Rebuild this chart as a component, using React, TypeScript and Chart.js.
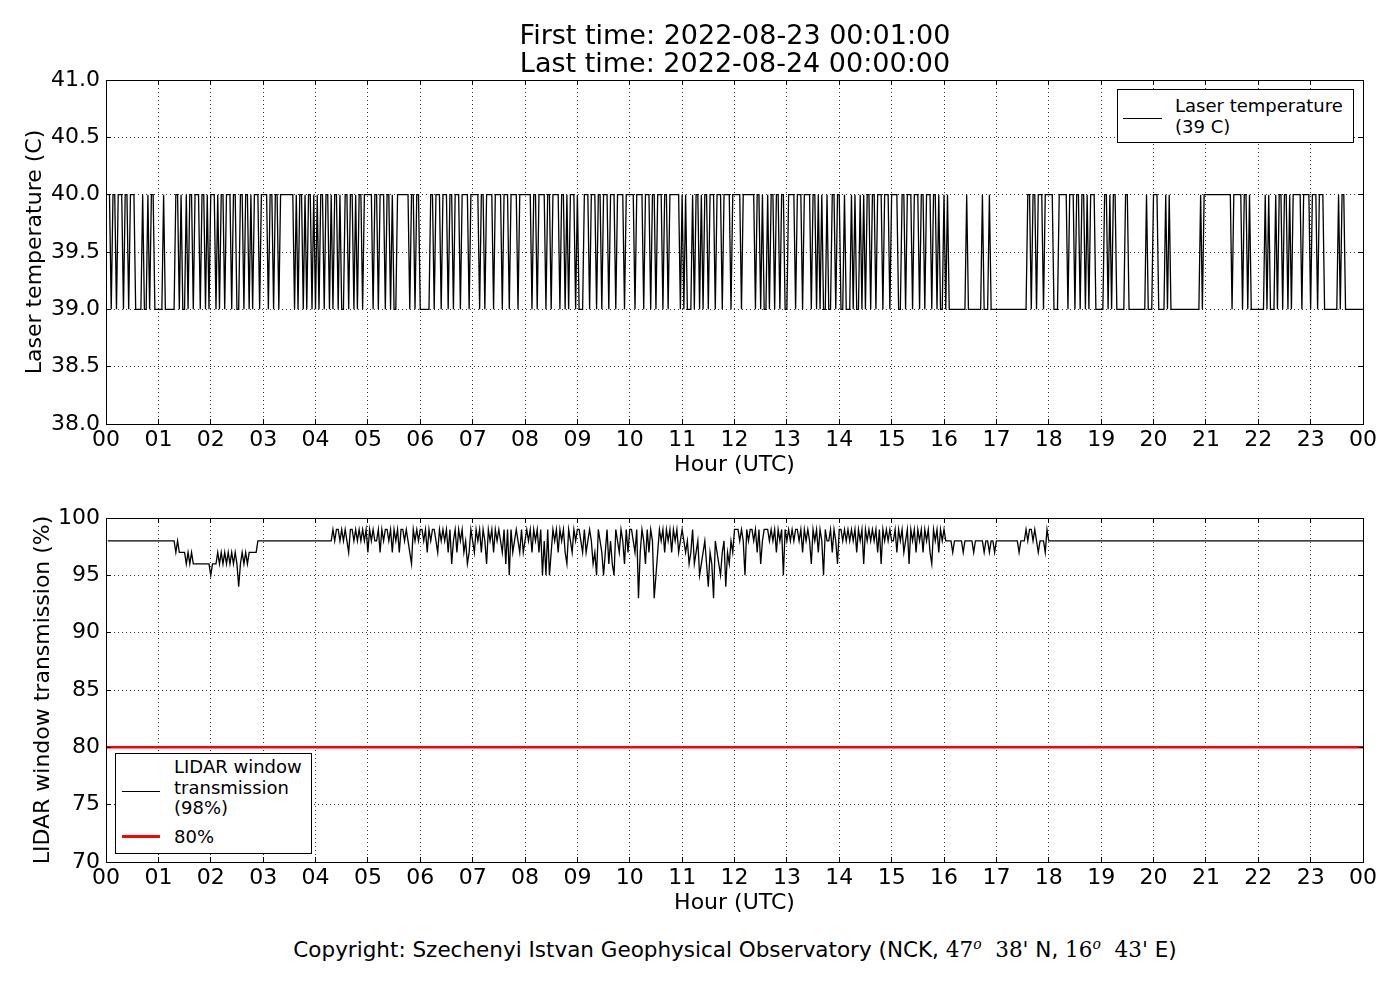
import React, { useEffect, useRef } from 'react';
import Chart from 'chart.js/auto';

const FONT = 'DejaVu Sans';

// x axis tick labels, one per hour (00 .. 23, then 00 of the next day)
const HOUR_TICKS = [
  '00', '01', '02', '03', '04', '05', '06', '07', '08', '09', '10', '11',
  '12', '13', '14', '15', '16', '17', '18', '19', '20', '21', '22', '23', '00',
];

// laser temperature, one string per hour, one char per 2-minute sample:
// '0' = 39 C, '1' = 40 C
const LASER_LOW = 39;
const LASER_HIGH = 40;
const laserByHour = [
  '110110111011011100001001011000',
  '001000000110100101101110110101',
  '110101101110110011011010111011',
  '110110110111111110101101011010',
  '101101101011010011011010110111',
  '110110111011010011111110110110',
  '000001101110111011011101111011',
  '111011011110111101110111101111',
  '111011011110110111101101011101',
  '000111011101101110111011110111',
  '110111101110110111011011111101',
  '010001011010110111011101111011',
  '111011111110110100101101101100',
  '111101110111101101010010011011',
  '001000101001010110110111011101',
  '111001101110111011011101101001',
  '010000000000100000000100010000',
  '000000000000000001101101110111',
  '110001111101110110110101110000',
  '011010110000011000000000010001',
  '110000101000000000000000001011',
  '111111111111110111110110100000',
  '000101000101101101011111011110',
  '111011100000000101100000000000',
];

// LIDAR window transmission, one string per hour, one char per 2-minute
// sample: the digit is the transmission above 90 % (8 = 98 %)
const TRANS_BASE = 90;
const transByHour = [
  '888888888888888888888888888888',
  '888888888787777676766666666665',
  '666767676767676467676777778888',
  '888888888888888888888888888888',
  '888888888989989898799898989897',
  '989889798998979897998987698989',
  '989798998798989796897989786798',
  '798979869897989879695978987978',
  '989798979585957989798976987989',
  '987978986759875796865987986979',
  '987937986979835798979897989789',
  '878679678567864763876578476879',
  '998985989989796899989897989598',
  '989899897989869897985988979869',
  '989898989798969898989796989898',
  '897989789698979897989769897989',
  '888878888878888878888878878878',
  '888888888888788898998987888798',
  '888888888888888888888888888888',
  '888888888888888888888888888888',
  '888888888888888888888888888888',
  '888888888888888888888888888888',
  '888888888888888888888888888888',
  '888888888888888888888888888888',
];

// alarm threshold line
const THRESHOLD = 80;
const THRESHOLD_SPAN = [0, 24];

const laserPoints = laserByHour.flatMap((row, h) =>
  row.split('').map((c, i) => ({ x: h + (i + 1) / row.length, y: c === '1' ? LASER_HIGH : LASER_LOW }))
);
const transPoints = transByHour.flatMap((row, h) =>
  row.split('').map((c, i) => ({ x: h + (i + 1) / row.length, y: TRANS_BASE + Number(c) }))
);
const thresholdPoints = THRESHOLD_SPAN.map((x) => ({ x, y: THRESHOLD }));

// matplotlib style frame with inward ticks on all four sides
const framePlugin = {
  id: 'frame',
  afterDatasetsDraw(chart: any) {
    const { ctx, chartArea } = chart;
    const { left, right, top, bottom } = chartArea;
    const xs = chart.scales.x;
    const ys = chart.scales.y;
    const al = (p: number) => Math.round(p - 0.5) + 0.5;
    ctx.save();
    ctx.strokeStyle = '#000';
    ctx.lineWidth = 1;
    ctx.setLineDash([]);
    ctx.beginPath();
    xs.ticks.forEach((t: any) => {
      const px = al(xs.getPixelForValue(t.value));
      ctx.moveTo(px, top);
      ctx.lineTo(px, top + 5);
      ctx.moveTo(px, bottom);
      ctx.lineTo(px, bottom - 5);
    });
    ys.ticks.forEach((t: any) => {
      const py = al(ys.getPixelForValue(t.value));
      ctx.moveTo(left, py);
      ctx.lineTo(left + 5, py);
      ctx.moveTo(right, py);
      ctx.lineTo(right - 5, py);
    });
    ctx.stroke();
    ctx.strokeRect(al(left), al(top), Math.round(right - left), Math.round(bottom - top));
    ctx.restore();
  },
};

interface AxisSetup {
  yMin: number;
  yMax: number;
  yStep: number;
  yTitle: string;
  yTitlePad: number;
  yFormat: (v: number) => string;
  padTop: number;
  padBottom: number;
}

const makeOptions = (s: AxisSetup): any => ({
  responsive: false,
  animation: false,
  events: [],
  layout: { autoPadding: false, padding: { top: s.padTop, right: 37, bottom: s.padBottom, left: 0 } },
  plugins: { legend: { display: false }, tooltip: { enabled: false } },
  scales: {
    x: {
      type: 'linear',
      min: 0,
      max: 24,
      afterFit: (sc: any) => {
        sc.height = 60;
      },
      grid: { color: 'rgba(0,0,0,0.8)', lineWidth: 1, drawTicks: false },
      border: { display: false, dash: [1, 3] },
      ticks: {
        stepSize: 1,
        autoSkip: false,
        maxRotation: 0,
        padding: 3,
        color: '#000',
        font: { family: FONT, size: 22 },
        callback: (v: number) => HOUR_TICKS[v],
      },
      title: {
        display: true,
        text: 'Hour (UTC)',
        color: '#000',
        font: { family: FONT, size: 22 },
        padding: { top: 0, bottom: 6 },
      },
    },
    y: {
      min: s.yMin,
      max: s.yMax,
      afterFit: (sc: any) => {
        sc.width = 106;
      },
      grid: { color: 'rgba(0,0,0,0.8)', lineWidth: 1, drawTicks: false },
      border: { display: false, dash: [1, 3] },
      ticks: {
        stepSize: s.yStep,
        padding: 6,
        color: '#000',
        font: { family: FONT, size: 22 },
        callback: (v: number) => s.yFormat(v),
      },
      title: {
        display: true,
        text: s.yTitle,
        color: '#000',
        font: { family: FONT, size: 22 },
        padding: { top: s.yTitlePad, bottom: 0 },
      },
    },
  },
});

const text = (extra: React.CSSProperties): React.CSSProperties => ({
  position: 'absolute',
  fontFamily: FONT,
  color: '#000',
  whiteSpace: 'nowrap',
  ...extra,
});

const serif: React.CSSProperties = { fontFamily: 'DejaVu Serif' };
const supO: React.CSSProperties = { fontStyle: 'italic', fontSize: '0.65em', verticalAlign: '0.6em', lineHeight: 0 };

const App: React.FC = () => {
  const topRef = useRef<HTMLCanvasElement>(null);
  const bottomRef = useRef<HTMLCanvasElement>(null);

  useEffect(() => {
    if (!topRef.current || !bottomRef.current) return;

    const top = new Chart(topRef.current, {
      type: 'line',
      data: {
        datasets: [
          {
            data: laserPoints,
            borderColor: '#000',
            borderWidth: 1.3,
            pointRadius: 0,
            tension: 0,
            fill: false,
          },
        ],
      },
      options: makeOptions({
        yMin: 38,
        yMax: 41,
        yStep: 0.5,
        yTitle: 'Laser temperature (C)',
        yTitlePad: 22,
        yFormat: (v) => v.toFixed(1),
        padTop: 80,
        padBottom: 490 - 424 - 60,
      }),
      plugins: [framePlugin],
    });

    const bottom = new Chart(bottomRef.current, {
      type: 'line',
      data: {
        datasets: [
          {
            data: thresholdPoints,
            borderColor: 'rgb(255,0,0)',
            borderWidth: 2.5,
            pointRadius: 0,
            fill: false,
          },
          {
            data: transPoints,
            borderColor: '#000',
            borderWidth: 1.3,
            pointRadius: 0,
            tension: 0,
            fill: false,
          },
        ],
      },
      options: makeOptions({
        yMin: 70,
        yMax: 100,
        yStep: 5,
        yTitle: 'LIDAR window transmission (%)',
        yTitlePad: 30,
        yFormat: (v) => String(v),
        padTop: 518 - 490,
        padBottom: 440 - (862 - 490) - 60,
      }),
      plugins: [framePlugin],
    });

    return () => {
      top.destroy();
      bottom.destroy();
    };
  }, []);

  return (
    <div style={{ position: 'absolute', left: 0, top: 0, width: 1400, height: 1000, background: '#fff' }}>
      <canvas ref={topRef} width={1400} height={490} style={{ position: 'absolute', left: 0, top: 0 }} />
      <canvas ref={bottomRef} width={1400} height={440} style={{ position: 'absolute', left: 0, top: 490 }} />

      <div style={text({ left: 435, top: 21, width: 600, textAlign: 'center', fontSize: 27, lineHeight: '28px' })}>
        First time: 2022-08-23 00:01:00
        <br />
        Last time: 2022-08-24 00:00:00
      </div>

      <div
        style={{
          position: 'absolute',
          left: 1117,
          top: 89,
          width: 237,
          height: 54,
          border: '1px solid #000',
          boxSizing: 'border-box',
          background: '#fff',
        }}
      >
        <div style={{ position: 'absolute', left: 5, top: 28, width: 39, height: 1, background: '#000' }} />
        <div style={text({ left: 57, top: 4.5, fontSize: 18, lineHeight: '21px' })}>
          Laser temperature
          <br />
          (39 C)
        </div>
      </div>

      <div
        style={{
          position: 'absolute',
          left: 115,
          top: 753,
          width: 197,
          height: 101,
          border: '1px solid #000',
          boxSizing: 'border-box',
          background: '#fff',
        }}
      >
        <div style={{ position: 'absolute', left: 6, top: 37, width: 38, height: 1, background: '#000' }} />
        <div style={text({ left: 58, top: 3, fontSize: 18, lineHeight: '20.5px' })}>
          LIDAR window
          <br />
          transmission
          <br />
          (98%)
        </div>
        <div style={{ position: 'absolute', left: 6, top: 81, width: 38, height: 3, background: 'rgb(255,0,0)' }} />
        <div style={text({ left: 58, top: 72.5, fontSize: 18, lineHeight: '20.5px' })}>80%</div>
      </div>

      <div style={text({ left: 185, top: 936, width: 1100, textAlign: 'center', fontSize: 21.5, lineHeight: '28px' })}>
        Copyright: Szechenyi Istvan Geophysical Observatory (NCK,{' '}
        <span style={serif}>
          47<span style={supO}>o</span>&nbsp;&nbsp;38'
        </span>{' '}
        N,{' '}
        <span style={serif}>
          16<span style={supO}>o</span>&nbsp;&nbsp;43'
        </span>{' '}
        E)
      </div>
    </div>
  );
};

export default App;
